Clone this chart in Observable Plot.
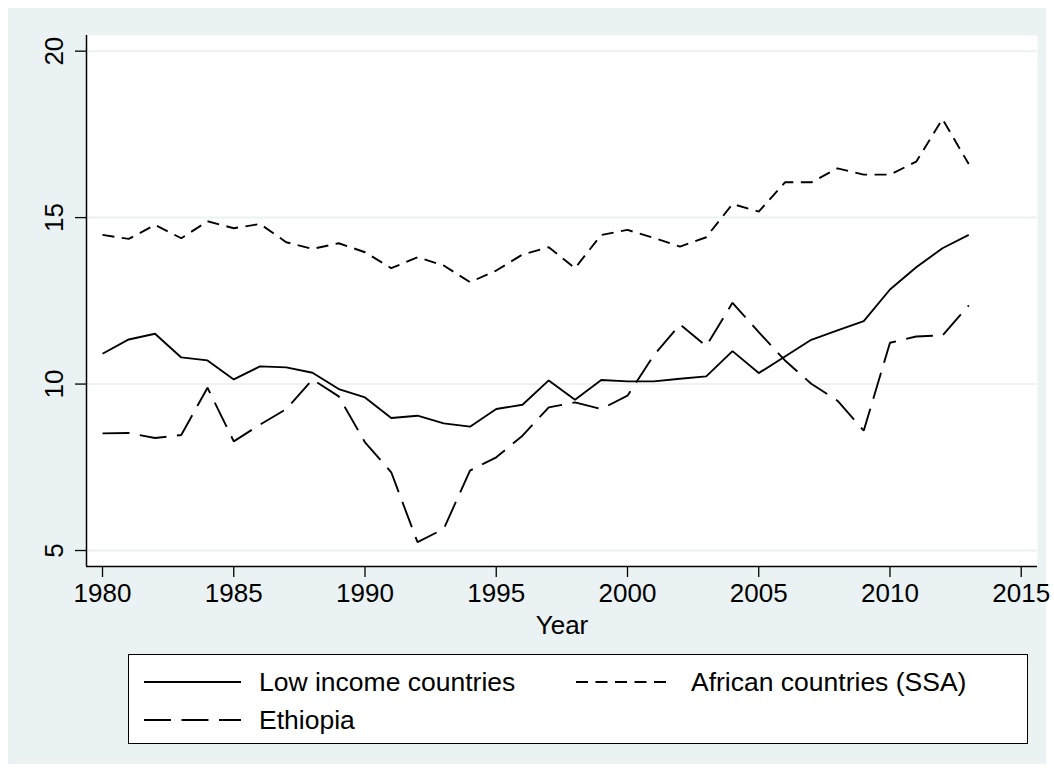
<!DOCTYPE html>
<html>
<head>
<meta charset="utf-8">
<script src="https://cdn.jsdelivr.net/npm/d3@7"></script>
<script src="https://cdn.jsdelivr.net/npm/@observablehq/plot@0.6"></script>
<style>
  html, body { margin: 0; padding: 0; background: #ffffff; }
  #page { position: relative; width: 1054px; height: 772px; background: #ffffff; font-family: "Liberation Sans", Arial, Helvetica, sans-serif; }
  #bg { position: absolute; left: 8px; top: 8px; width: 1038px; height: 756px; background: #eaf2f3; }
  #chart { position: absolute; left: 0; top: 0; }
  #legend { position: absolute; left: 128px; top: 654px; width: 898px; height: 88px; background: #fff; border: 1px solid #000; }
  #legend svg { display: block; }
</style>
</head>
<body>
<div id="page">
  <div id="bg"></div>
  <div id="chart"></div>
  <div id="legend"></div>
</div>
<script>
const years = d3.range(1980, 2014);
const lowIncome = [10.91, 11.34, 11.51, 10.80, 10.71, 10.14, 10.53, 10.50, 10.34, 9.85,
                   9.60, 8.98, 9.05, 8.82, 8.72, 9.25, 9.38, 10.11, 9.53, 10.12,
                   10.08, 10.08, 10.16, 10.23, 10.99, 10.33, 10.83, 11.33, 11.61, 11.89,
                   12.84, 13.51, 14.08, 14.48];
const ssa = [14.48, 14.36, 14.78, 14.38, 14.89, 14.68, 14.81, 14.26, 14.06, 14.23,
             13.96, 13.48, 13.81, 13.56, 13.06, 13.41, 13.89, 14.11, 13.48, 14.48,
             14.63, 14.39, 14.13, 14.41, 15.41, 15.18, 16.06, 16.06, 16.48, 16.29,
             16.29, 16.68, 17.96, 16.61];
const ethiopia = [8.52, 8.53, 8.38, 8.47, 9.89, 8.28, 8.78, 9.25, 10.14, 9.63,
                  8.25, 7.35, 5.25, 5.65, 7.40, 7.80, 8.45, 9.30, 9.45, 9.25,
                  9.65, 10.86, 11.79, 11.14, 12.44, 11.56, 10.71, 10.01, 9.50, 8.60,
                  11.24, 11.43, 11.46, 12.36];
const seriesNames = ["Low income countries", "African countries (SSA)", "Ethiopia"];
const seriesValues = [lowIncome, ssa, ethiopia];
const seriesDash = ["none", "12,7.5", "27,10.5"];
const xTicks = [1980, 1985, 1990, 1995, 2000, 2005, 2010, 2015];
const yTicks = [5, 10, 15, 20];

const xDomain = [1979.39, 2015.62];
const yDomain = [4.52, 20.47];
const FONT = "'Liberation Sans', Arial, Helvetica, sans-serif";

const lineMarks = seriesValues.map((vals, i) =>
  Plot.line(years.map((y, j) => ({year: y, value: vals[j]})), {
    x: "year", y: "value", stroke: "#000", strokeWidth: 1.9,
    strokeDasharray: seriesDash[i], strokeLinejoin: "miter", strokeLinecap: "butt"
  })
);

const chart = Plot.plot({
  width: 1054,
  height: 645,
  marginLeft: 86,
  marginRight: 17,
  marginTop: 35,
  marginBottom: 79,
  style: { background: "transparent", fontFamily: FONT, fontSize: "26px", color: "#000" },
  x: { domain: xDomain },
  y: { domain: yDomain },
  marks: [
    Plot.frame({ fill: "#ffffff", stroke: null }),
    Plot.ruleY(yTicks, { stroke: "#eaf2f3", strokeWidth: 2 }),
    ...lineMarks,
    Plot.ruleX([xDomain[0]], { stroke: "#000", strokeWidth: 1.5 }),
    Plot.ruleY([yDomain[0]], { stroke: "#000", strokeWidth: 1.5 }),
    Plot.axisY({ ticks: yTicks, tickSize: 11, tickPadding: 13, tickRotate: -90, textAnchor: "middle",
                 tickFormat: d => String(d), label: null, stroke: "#000", strokeWidth: 1.3, fontSize: 26 }),
    Plot.axisX({ ticks: xTicks, tickSize: 11, tickPadding: 6, tickFormat: d => String(d),
                 label: "Year", labelAnchor: "center", labelArrow: "none", labelOffset: 67,
                 stroke: "#000", strokeWidth: 1.3, fontSize: 26 })
  ]
});
document.getElementById("chart").appendChild(chart);

// Legend
const lg = d3.select("#legend").append("svg").attr("width", 898).attr("height", 88)
  .style("font-family", FONT).style("font-size", "26.5px");
const legendPos = [[15, 27], [447, 27], [15, 65]];
seriesNames.forEach((name, i) => {
  const [lx, ly] = legendPos[i];
  lg.append("line").attr("x1", lx).attr("x2", lx + 97).attr("y1", ly).attr("y2", ly)
    .attr("stroke", "#000").attr("stroke-width", 1.9)
    .attr("stroke-dasharray", seriesDash[i] === "none" ? null : seriesDash[i]);
  lg.append("text").attr("x", lx + 115).attr("y", ly).attr("dy", "0.35em").attr("fill", "#000").text(name);
});
</script>
</body>
</html>
